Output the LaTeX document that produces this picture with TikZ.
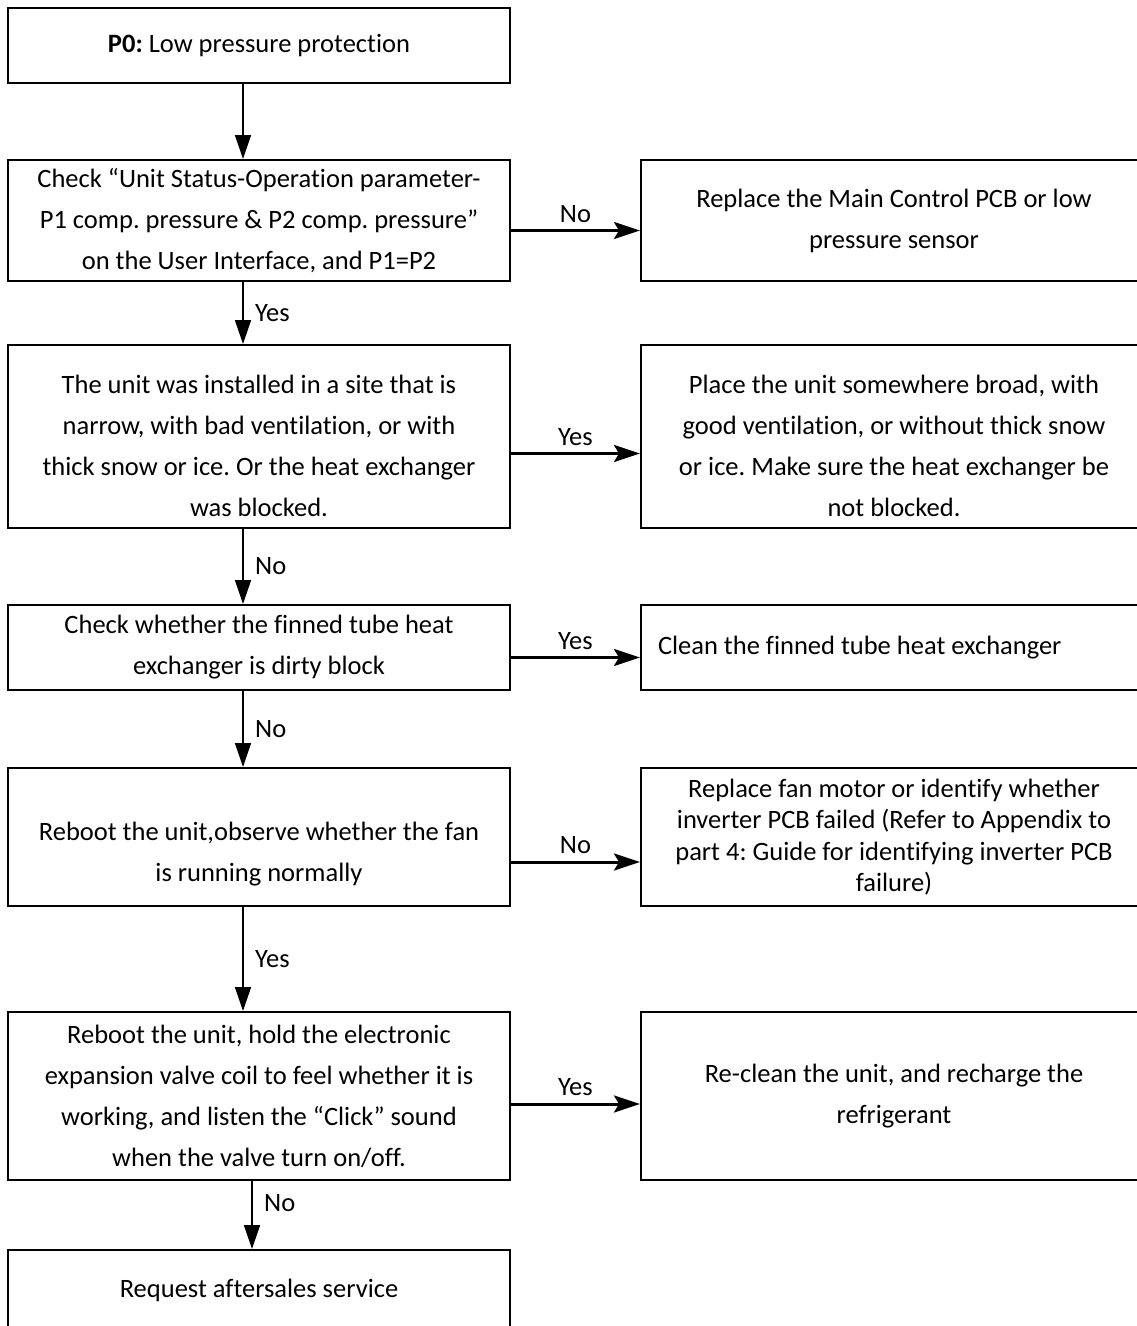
\documentclass[tikz,border=0pt]{standalone}
\usepackage{fontspec}
\setmainfont{Carlito}[Ligatures=NoCommon]
\usetikzlibrary{arrows.meta,positioning}
\frenchspacing

\begin{document}
\begin{tikzpicture}[x=1pt,y=-1pt,
    box/.style={draw=black, line width=2pt, inner sep=0pt, minimum width=502pt,
      align=center, font=\fontsize{26.5}{41}\selectfont},
    sidebox/.style={box, minimum width=506pt},
    boxtext/.style={align=center, inner sep=0pt, font=\fontsize{26.5}{41}\selectfont},
    down/.style={line width=1.6pt, -{Triangle[length=24pt,width=16pt]}},
    across/.style={line width=3pt, -{Stealth[length=26pt,width=17pt,inset=5pt]}},
    lbl/.style={font=\fontsize{26.5}{30}\selectfont}]
  \useasboundingbox (0,0) rectangle (1137,1326);

  % main column
  \node[box, line width=1.2pt, minimum height=75pt] (p0) at (259,45.5)
    {\textbf{P0:} Low pressure protection};
  \node[box, minimum height=121pt] (chk) at (259,220.5)
    {Check “Unit Status-Operation parameter-\\
     P1 comp. pressure \& P2 comp. pressure”\\
     on the User Interface, and P1=P2};
  \node[box, minimum height=183pt,
    label={[boxtext, yshift=-9pt]center:{The unit was installed in a site that is\\
     narrow, with bad ventilation, or with\\
     thick snow or ice. Or the heat exchanger\\
     was blocked.}}] (site) at (259,436.5) {};
  \node[box, minimum height=85pt] (fin) at (259,647.5)
    {Check whether the finned tube heat\\
     exchanger is dirty block};
  \node[box, minimum height=138pt,
    label={[boxtext, yshift=-17pt]center:{Reboot the unit,observe whether the fan\\
     is running normally}}] (fan) at (259,837) {};
  \node[box, minimum height=168pt] (valve) at (259,1096)
    {Reboot the unit, hold the electronic\\
     expansion valve coil to feel whether it is\\
     working, and listen the “Click” sound\\
     when the valve turn on/off.};
  \node[box, minimum height=80pt] (service) at (259,1290)
    {Request aftersales service};

  % side column
  \node[sidebox, minimum height=121pt] (pcb) at (894,220.5)
    {Replace the Main Control PCB or low\\
     pressure sensor};
  \node[sidebox, minimum height=183pt,
    label={[boxtext, yshift=-9pt]center:{Place the unit somewhere broad, with\\
     good ventilation, or without thick snow\\
     or ice. Make sure the heat exchanger be\\
     not blocked.}}] (place) at (894,436.5) {};
  \node[sidebox, align=flush left, text width=472pt, inner xsep=17pt,
    minimum height=85pt] (clean) at (894,647.5)
    {Clean the finned tube heat exchanger};
  \node[sidebox, minimum height=138pt, font=\fontsize{26.5}{31.5}\selectfont] (motor) at (894,837)
    {Replace fan motor or identify whether\\
     inverter PCB failed (Refer to Appendix to\\
     part 4: Guide for identifying inverter PCB\\
     failure)};
  \node[sidebox, minimum height=168pt] (recharge) at (894,1096)
    {Re-clean the unit, and recharge the\\
     refrigerant};

  % downward links
  \draw[down] ([xshift=-16pt]p0.south) -- ([xshift=-16pt]chk.north);
  \draw[down] ([xshift=-16pt]chk.south) -- ([xshift=-16pt]site.north)
    node[lbl, midway, right=8pt] {Yes};
  \draw[down] ([xshift=-16pt]site.south) -- ([xshift=-16pt]fin.north)
    node[lbl, midway, right=8pt] {No};
  \draw[down] ([xshift=-16pt]fin.south) -- ([xshift=-16pt]fan.north)
    node[lbl, midway, right=8pt] {No};
  \draw[down] ([xshift=-16pt]fan.south) -- ([xshift=-16pt]valve.north)
    node[lbl, midway, right=8pt] {Yes};
  \draw[down] ([xshift=-7pt]valve.south) -- ([xshift=-7pt]service.north)
    node[lbl, pos=0.32, right=8pt] {No};

  % sideways links
  \draw[across] ([yshift=-10pt]chk.east) -- ([yshift=-10pt]pcb.west)
    node[lbl, midway, above=3pt] {No};
  \draw[across] ([yshift=-17pt]site.east) -- ([yshift=-17pt]place.west)
    node[lbl, midway, above=3pt] {Yes};
  \draw[across] ([yshift=-10pt]fin.east) -- ([yshift=-10pt]clean.west)
    node[lbl, midway, above=3pt] {Yes};
  \draw[across] ([yshift=-25pt]fan.east) -- ([yshift=-25pt]motor.west)
    node[lbl, midway, above=3pt] {No};
  \draw[across] ([yshift=-8pt]valve.east) -- ([yshift=-8pt]recharge.west)
    node[lbl, midway, above=3pt] {Yes};
\end{tikzpicture}
\end{document}
